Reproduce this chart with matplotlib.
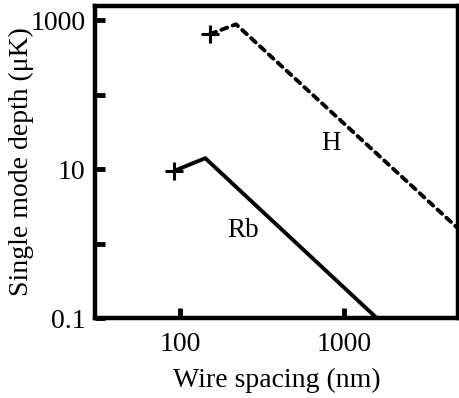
import matplotlib
matplotlib.use('Agg')
from matplotlib import pyplot as plt
from matplotlib.ticker import FixedLocator, NullLocator, FixedFormatter

# data
rb_spacing = [91, 142, 5000]
rb_depth = [9.4, 14.0, 0.0096]
h_spacing = [152, 219, 5000]
h_depth = [650, 880, 1.6]

x_ticks = [100, 1000]
x_labels = ['100', '1000']
y_ticks = [0.1, 1, 10, 100, 1000]
y_labels = ['0.1', '', '10', '', '1000']

plt.rcParams['font.family'] = ['Liberation Serif', 'DejaVu Serif']

fig = plt.figure(figsize=(4.6, 3.98), dpi=100)
ax = fig.add_axes([0.2065, 0.201, 0.789, 0.784])

ax.plot(rb_spacing, rb_depth, c='k', lw=2.8, solid_capstyle='butt')
ax.plot(rb_spacing[0], rb_depth[0], marker='+', ms=13, mew=2.2, c='k')
ax.plot(h_spacing, h_depth, c='k', lw=2.8, ls=(0, (1.6, 1.5)),
        dash_capstyle='round')
ax.plot(h_spacing[0], h_depth[0], marker='+', ms=13, mew=2.2, c='k')

ax.set_xscale('log')
ax.set_yscale('log')
ax.set_xlim(30, 5000)
ax.set_ylim(0.1, 1550)

ax.xaxis.set_major_locator(FixedLocator(x_ticks))
ax.xaxis.set_major_formatter(FixedFormatter(x_labels))
ax.xaxis.set_minor_locator(NullLocator())
ax.yaxis.set_major_locator(FixedLocator(y_ticks))
ax.yaxis.set_major_formatter(FixedFormatter(y_labels))
ax.yaxis.set_minor_locator(NullLocator())
ax.tick_params(direction='in', length=7, width=3.5, labelsize=20,
               top=False, right=False)
ax.tick_params(axis='x', pad=10)
ax.tick_params(axis='y', pad=7)

for s in ax.spines.values():
    s.set_linewidth(3.2)

ax.text(833, 22, 'H', fontsize=19.5, ha='center', va='center')
ax.text(242, 1.5, 'Rb', fontsize=19.5, ha='center', va='center')

ax.set_xlabel('Wire spacing (nm)', fontsize=20, labelpad=8)
ax.set_ylabel('Single mode depth (μK)', fontsize=20, labelpad=-3)

fig.savefig('out.png', dpi=100)
